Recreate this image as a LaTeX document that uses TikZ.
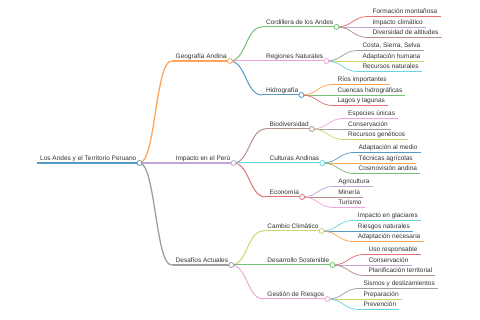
\documentclass[tikz,border=0pt]{standalone}
\usepackage{fontspec}
\setmainfont{Liberation Sans}
\usetikzlibrary{calc}
\definecolor{k0}{HTML}{1F77B4}
\definecolor{k1}{HTML}{FF7F0E}
\definecolor{k2}{HTML}{2CA02C}
\definecolor{k3}{HTML}{D62728}
\definecolor{k4}{HTML}{9467BD}
\definecolor{k5}{HTML}{8C564B}
\definecolor{k6}{HTML}{E377C2}
\definecolor{k7}{HTML}{7F7F7F}
\definecolor{k8}{HTML}{BCBD22}
\definecolor{k9}{HTML}{17BECF}
\colorlet{c0}{k0!75!white}
\colorlet{c1}{k1!70!white}
\colorlet{c2}{k2!65!white}
\colorlet{c3}{k3!65!white}
\colorlet{c4}{k4!60!white}
\colorlet{c5}{k5!65!white}
\colorlet{c6}{k6!65!white}
\colorlet{c7}{k7!75!white}
\colorlet{c8}{k8!65!white}
\colorlet{c9}{k9!65!white}
\colorlet{txt}{black!80}
\tikzset{
  mmtext/.style={font=\fontsize{6.5}{7}\selectfont, text=txt, inner sep=0pt, anchor=base west},
  mmdot/.style={circle, inner sep=0pt, minimum size=5pt, fill=white, line width=0.8pt},
  lw1/.style={line width=1.3pt},
  lw2/.style={line width=1.0pt},
  lw3/.style={line width=0.75pt}
}
% #1 name, #2 parent, #3 y, #4 colour, #5 width style, #6 text
\newcommand\mmnode[6]{%
  \path let \p1=(#2-e) in coordinate (#1-s) at (\x1+32pt,-#3pt);
  \node[mmtext] (#1) at ([xshift=4pt,yshift=2.5pt]#1-s) {#6};
  \path let \p1=(#1.east), \p2=(#1-s) in coordinate (#1-e) at (\x1+3pt,\y2);
  \draw[#4,#5] (#1-s) -- (#1-e);
  \draw[#4,#5] let \p1=(#2-e), \p2=(#1-s) in
    (\p1) .. controls ({(\x1+\x2)/2},\y1) and ({(\x1+\x2)/2},\y2) .. (\p2);
}
\newcommand\mmdotat[2]{\node[mmdot,draw=#2] (#1-c) at (#1-e) {};}
\begin{document}
\begin{tikzpicture}[x=1pt,y=-1pt]
\fill[white] (0,0) rectangle (480,320);
\useasboundingbox (0,0) rectangle (480,320);
% root
\coordinate (root-s) at (37,163);
\node[mmtext] (root) at ([xshift=3pt,yshift=2.5pt]root-s) {Los Andes y el Territorio Peruano};
\path let \p1=(root.east), \p2=(root-s) in coordinate (root-e) at (\x1+3pt,\y2);
\draw[c0,line width=1.8pt] (root-s) -- (root-e);
% level 1
\mmnode{geo}{root}{61}{c1}{lw1}{Geografía Andina}
\mmnode{imp}{root}{163}{c4}{lw1}{Impacto en el Perú}
\mmnode{des}{root}{265}{c7}{lw1}{Desafíos Actuales}
% level 2
\mmnode{cor}{geo}{27}{c2}{lw2}{Cordillera de los Andes}
\mmnode{reg}{geo}{61}{c6}{lw2}{Regiones Naturales}
\mmnode{hid}{geo}{95}{c0}{lw2}{Hidrografía}
\mmnode{bio}{imp}{129}{c5}{lw2}{Biodiversidad}
\mmnode{cul}{imp}{163}{c9}{lw2}{Culturas Andinas}
\mmnode{eco}{imp}{197}{c3}{lw2}{Economía}
\mmnode{cam}{des}{231}{c8}{lw2}{Cambio Climático}
\mmnode{dsa}{des}{265}{c2}{lw2}{Desarrollo Sostenible}
\mmnode{ges}{des}{299}{c6}{lw2}{Gestión de Riesgos}
% level 3
\mmnode{a1}{cor}{16.5}{c3}{lw3}{Formación montañosa}
\mmnode{a2}{cor}{27}{c4}{lw3}{Impacto climático}
\mmnode{a3}{cor}{37.5}{c5}{lw3}{Diversidad de altitudes}
\mmnode{b1}{reg}{50.5}{c7}{lw3}{Costa, Sierra, Selva}
\mmnode{b2}{reg}{61}{c8}{lw3}{Adaptación humana}
\mmnode{b3}{reg}{71.5}{c9}{lw3}{Recursos naturales}
\mmnode{h1}{hid}{84.5}{c1}{lw3}{Ríos importantes}
\mmnode{h2}{hid}{95}{c2}{lw3}{Cuencas hidrográficas}
\mmnode{h3}{hid}{105.5}{c3}{lw3}{Lagos y lagunas}
\mmnode{d1}{bio}{118.5}{c6}{lw3}{Especies únicas}
\mmnode{d2}{bio}{129}{c7}{lw3}{Conservación}
\mmnode{d3}{bio}{139.5}{c8}{lw3}{Recursos genéticos}
\mmnode{e1}{cul}{152.5}{c0}{lw3}{Adaptación al medio}
\mmnode{e2}{cul}{163}{c1}{lw3}{Técnicas agrícolas}
\mmnode{e3}{cul}{173.5}{c2}{lw3}{Cosmovisión andina}
\mmnode{f1}{eco}{186.5}{c4}{lw3}{Agricultura}
\mmnode{f2}{eco}{197}{c5}{lw3}{Minería}
\mmnode{f3}{eco}{207.5}{c6}{lw3}{Turismo}
\mmnode{g1}{cam}{220.5}{c9}{lw3}{Impacto en glaciares}
\mmnode{g2}{cam}{231}{c0}{lw3}{Riesgos naturales}
\mmnode{g3}{cam}{241.5}{c1}{lw3}{Adaptación necesaria}
\mmnode{k1}{dsa}{254.5}{c3}{lw3}{Uso responsable}
\mmnode{k2}{dsa}{265}{c4}{lw3}{Conservación}
\mmnode{k3}{dsa}{275.5}{c5}{lw3}{Planificación territorial}
\mmnode{m1}{ges}{288.5}{c7}{lw3}{Sismos y deslizamientos}
\mmnode{m2}{ges}{299}{c8}{lw3}{Preparación}
\mmnode{m3}{ges}{309.5}{c9}{lw3}{Prevención}
% circles
\mmdotat{root}{c0}
\mmdotat{geo}{c1}
\mmdotat{imp}{c4}
\mmdotat{des}{c7}
\mmdotat{cor}{c2}
\mmdotat{reg}{c6}
\mmdotat{hid}{c0}
\mmdotat{bio}{c5}
\mmdotat{cul}{c9}
\mmdotat{eco}{c3}
\mmdotat{cam}{c8}
\mmdotat{dsa}{c2}
\mmdotat{ges}{c6}
\end{tikzpicture}
\end{document}
